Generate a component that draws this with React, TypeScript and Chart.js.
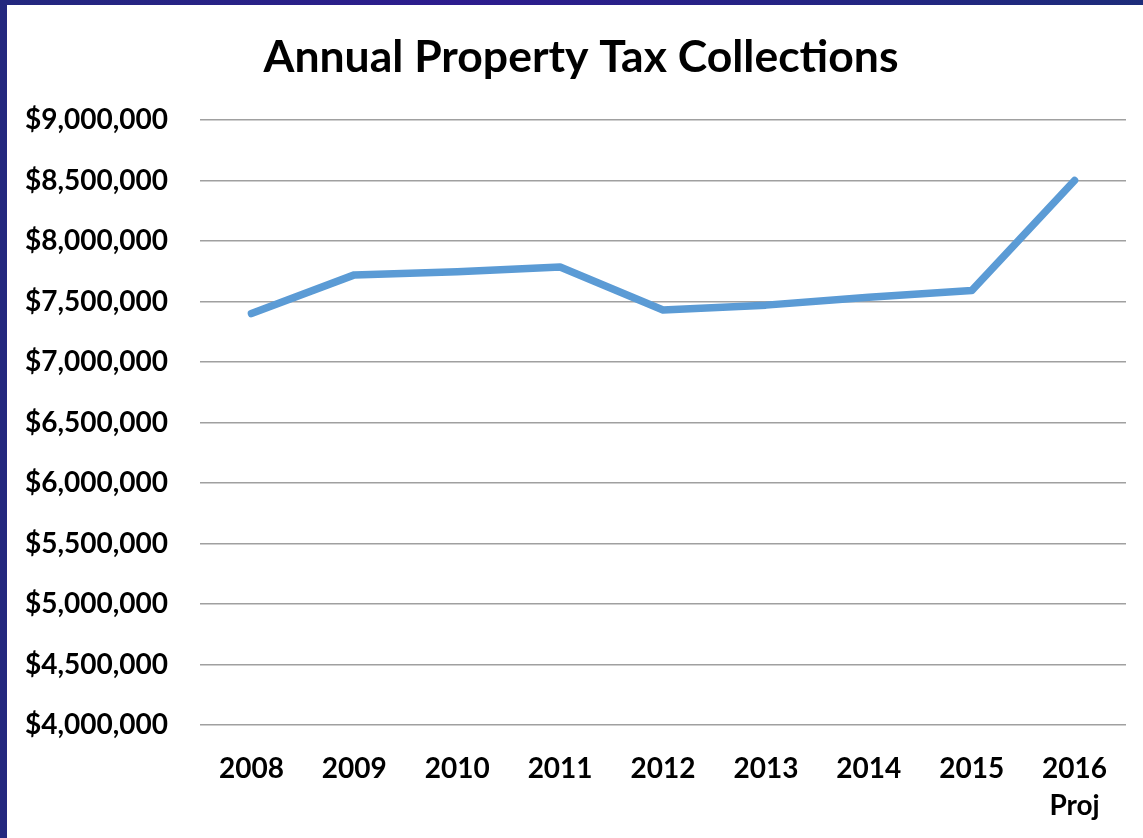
import React, { useEffect, useRef } from "react";
import { Chart, registerables } from "chart.js";

Chart.register(...registerables);

const categories: (string | string[])[] = ["2008", "2009", "2010", "2011", "2012", "2013", "2014", "2015", ["2016", "Proj"]];
const collections = [7400000, 7720000, 7745000, 7785000, 7430000, 7470000, 7535000, 7590000, 8500000];
const yMin = 4000000;
const yMax = 9000000;
const yStep = 500000;
const chartTitle = "Annual Property Tax Collections";

const titlePlugin = {
  id: "offsetTitle",
  afterDraw(chart: any) {
    const ctx = chart.ctx;
    ctx.save();
    ctx.fillStyle = "#000";
    ctx.font = "bold 44.5px Lato";
    ctx.textAlign = "center";
    ctx.textBaseline = "middle";
    const cx = (36 + chart.chartArea.right) / 2;
    ctx.fillText(chartTitle, cx, 58);
    ctx.restore();
  },
};

export default function App() {
  const ref = useRef<HTMLCanvasElement>(null);
  useEffect(() => {
    document.body.style.margin = "0";
    const ctx = ref.current!;
    const chart = new Chart(ctx, {
      type: "line",
      data: {
        labels: categories,
        datasets: [
          {
            data: collections,
            borderColor: "#5B9BD5",
            borderWidth: 7.5,
            borderCapStyle: "round",
            borderJoinStyle: "round",
            pointRadius: 0,
            tension: 0,
            fill: false,
          },
        ],
      },
      options: {
        animation: false,
        responsive: false,
        maintainAspectRatio: false,
        layout: { padding: { left: 0, right: 17, top: 120, bottom: 0 } },
        plugins: {
          legend: { display: false },
          tooltip: { enabled: false },
          title: { display: false },
        },
        scales: {
          x: {
            offset: true,
            grid: { display: false, drawTicks: false },
            border: { display: false },
            ticks: {
              color: "#000",
              font: { family: "Lato", size: 28, weight: "bold", lineHeight: 1.3 },
              padding: 26,
              maxRotation: 0,
              autoSkip: false,
            },
            afterFit: (s: any) => {
              s.height = 113;
            },
          },
          y: {
            min: yMin,
            max: yMax,
            grid: { color: "#a0a0a0", lineWidth: 1.5, drawTicks: false },
            border: { display: false },
            ticks: {
              stepSize: yStep,
              color: "#000",
              padding: 32,
              font: { family: "Lato", size: 28, weight: "bold" },
              callback: (v: any) => "$" + Number(v).toLocaleString("en-US"),
            },
            afterFit: (s: any) => {
              s.width = 200;
            },
          },
        },
      },
      plugins: [titlePlugin],
    });
    return () => chart.destroy();
  }, []);

  return (
    <div
      style={{
        position: "relative",
        width: 1143,
        height: 838,
        background: "linear-gradient(90deg, #23287e 0%, #2d1c8e 40%, #1d2c7a 100%)",
        overflow: "hidden",
      }}
    >
      <div style={{ position: "absolute", left: 7, top: 5, right: 0, bottom: 0, background: "#fff" }} />
      <canvas ref={ref} width={1143} height={838} style={{ position: "absolute", left: 0, top: 0 }} />
    </div>
  );
}
